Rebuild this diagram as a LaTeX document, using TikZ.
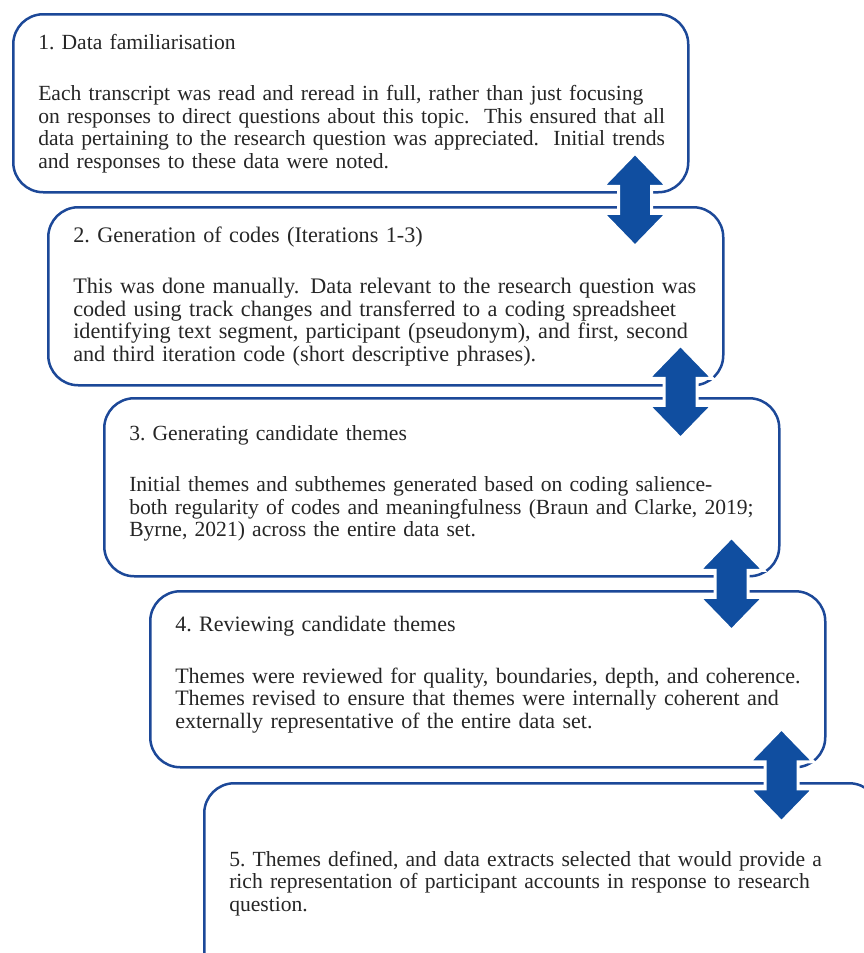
\documentclass[tikz,border=0pt]{standalone}
\usepackage{fontspec}
\setmainfont{Liberation Serif}
\usetikzlibrary{calc}
\definecolor{stageblue}{RGB}{28,72,152}
\definecolor{arrowblue}{RGB}{16,78,160}
\tikzset{
  stagebox/.style={draw=stageblue, line width=2.5pt, rounded corners=30pt, fill=white,
    anchor=north west, minimum width=675pt, minimum height=178pt,
    inner xsep=25pt, text width=625pt, align=left, text=black!85,
    font=\fontsize{21.6}{22.5}\selectfont},
  twoway/.style={fill=arrowblue, draw=white, line width=3pt, line join=miter}
}
\begin{document}
\begin{tikzpicture}[x=1pt, y=-1pt]
  \useasboundingbox (0,0) rectangle (864,953);
  \clip (0,0) rectangle (864,953);
  % stages
  \node[stagebox] (s1) at (12,13) {1.\ Data familiarisation\\[29pt]
    \mbox{Each transcript was read and reread in full, rather than just focusing}\\
    \mbox{on responses to direct questions about this topic.\ \ This ensured that all}\\
    \mbox{data pertaining to the research question was appreciated.\ \ Initial trends}\\
    \mbox{and responses to these data were noted.}};
  \node[stagebox, font=\fontsize{22.2}{22.5}\selectfont] (s2) at (47,206) {2.\ Generation of codes (Iterations 1-3)\\[29pt]
    \mbox{This was done manually. Data relevant to the research question was}\\
    \mbox{coded using track changes and transferred to a coding spreadsheet}\\
    \mbox{identifying text segment, participant (pseudonym), and first, second}\\
    \mbox{and third iteration code (short descriptive phrases).}};
  \node[stagebox] (s3) at (103,397) {3.\ Generating candidate themes\\[29pt]
    \mbox{Initial themes and subthemes generated based on coding salience-}\\
    \mbox{both regularity of codes and meaningfulness (Braun and Clarke, 2019;}\\
    \mbox{Byrne, 2021) across the entire data set.}\par\vspace{8pt}};
  \node[stagebox, minimum height=176pt, font=\fontsize{22}{22.5}\selectfont] (s4) at (149,590) {4.\ Reviewing candidate themes\\[29pt]
    \mbox{Themes were reviewed for quality, boundaries, depth, and coherence.}\\
    \mbox{Themes revised to ensure that themes were internally coherent and}\\
    \mbox{externally representative of the entire data set.}\par\vspace{9pt}};
  \node[stagebox, minimum height=200pt] (s5) at (203,782) {%
    \mbox{5.\ Themes defined, and data extracts selected that would provide a}\\
    \mbox{rich representation of participant accounts in response to research}\\
    \mbox{question.}};
  % two-way arrows between stages
  \foreach \a/\b in {s1/s2, s2/s3, s3/s4, s4/s5} {
    \coordinate (m) at ($(\a.south east)!0.5!(\b.north east)+(-72,0)$);
    \filldraw[twoway] ($(m)+(0,-46.5)$) -- ++(32,33) -- ++(-15.5,0) -- ++(0,27)
      -- ++(15.5,0) -- ++(-32,33) -- ++(-32,-33) -- ++(15.5,0) -- ++(0,-27)
      -- ++(-15.5,0) -- cycle;
  }
\end{tikzpicture}
\end{document}
